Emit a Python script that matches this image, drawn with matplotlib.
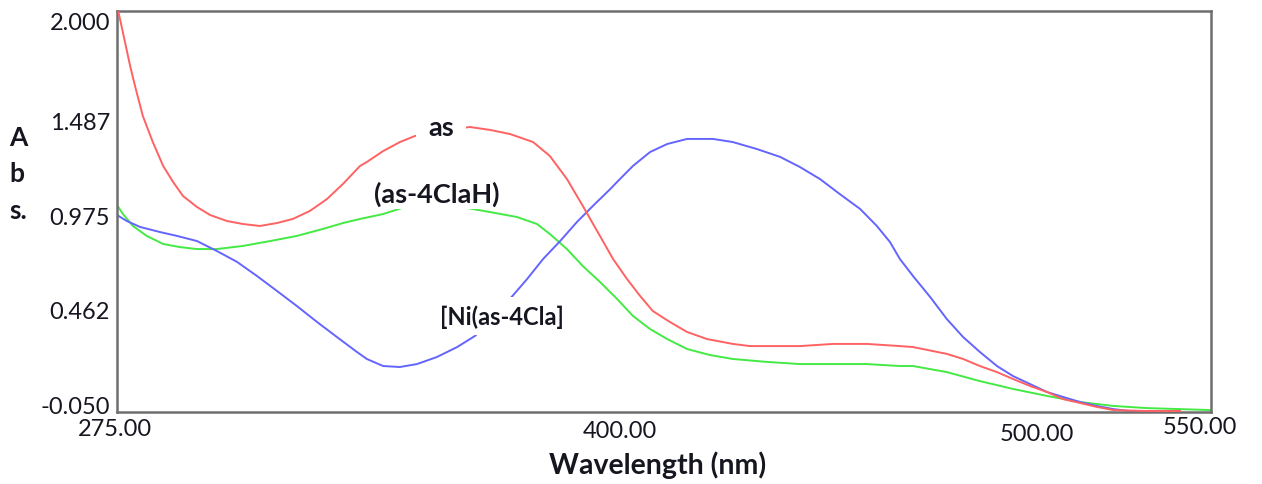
import matplotlib
matplotlib.use("Agg")
import matplotlib.pyplot as plt
from matplotlib.transforms import ScaledTranslation

# Absorption spectra (wavelength in nm, absorbance)
wl_as = [275.3, 277.0, 278.3, 279.6, 281.5, 284.0, 286.6, 289.1, 291.6, 295.1,
         298.4, 302.7, 306.7, 310.9, 315.2, 319.2, 323.5, 327.8, 331.8, 336.1,
         337.8, 341.9, 346.1, 349.9, 356.7, 363.7, 368.8, 373.8, 379.6, 383.8,
         388.1, 392.1, 396.4, 399.7, 403.2, 406.5, 409.7, 414.0, 418.3, 423.3,
         429.8, 434.1, 446.7, 455.0, 463.5, 471.8, 475.1, 483.6, 487.7, 491.9,
         496.2, 500.2, 504.5, 508.8, 512.8, 517.1, 521.3, 525.4, 533.9, 542.2]
abs_as = [2.001, 1.842, 1.719, 1.611, 1.463, 1.330, 1.208, 1.126, 1.054, 0.998,
          0.957, 0.926, 0.911, 0.901, 0.916, 0.937, 0.978, 1.039, 1.116, 1.208,
          1.228, 1.284, 1.330, 1.361, 1.387, 1.407, 1.392, 1.371, 1.330, 1.259,
          1.141, 1.003, 0.850, 0.732, 0.630, 0.543, 0.466, 0.410, 0.359, 0.323,
          0.298, 0.287, 0.287, 0.298, 0.298, 0.287, 0.282, 0.247, 0.221, 0.185,
          0.154, 0.119, 0.083, 0.052, 0.016, -0.004, -0.024, -0.040, -0.045, -0.045]

wl_ligand = [275.0, 276.5, 279.0, 282.5, 286.6, 290.8, 295.1, 300.1, 306.7, 313.5,
             320.2, 326.8, 331.8, 336.1, 341.9, 347.4, 352.7, 358.0, 363.0, 368.8,
             375.5, 380.6, 383.8, 388.1, 392.1, 396.4, 400.7, 404.7, 409.0, 413.3,
             418.3, 424.1, 429.8, 438.4, 446.7, 463.5, 471.8, 475.1, 483.6, 491.9,
             500.2, 508.8, 517.1, 525.4, 533.9, 549.7]
abs_ligand = [1.008, 0.962, 0.901, 0.850, 0.809, 0.793, 0.783, 0.783, 0.799, 0.824,
              0.850, 0.886, 0.916, 0.937, 0.962, 0.998, 1.003, 0.998, 0.993, 0.972,
              0.947, 0.911, 0.860, 0.783, 0.696, 0.615, 0.528, 0.441, 0.374, 0.323,
              0.272, 0.241, 0.221, 0.206, 0.195, 0.195, 0.185, 0.185, 0.154, 0.108,
              0.068, 0.032, 0.001, -0.019, -0.030, -0.040]

wl_complex = [275.0, 277.5, 280.8, 285.8, 290.1, 295.1, 300.1, 305.2, 310.2, 315.2,
              320.2, 325.3, 330.3, 335.3, 337.8, 341.9, 346.1, 350.4, 355.4, 360.5,
              365.0, 369.3, 373.3, 378.1, 382.1, 386.4, 390.6, 394.7, 398.9, 400.7,
              404.7, 409.0, 413.3, 418.3, 424.8, 429.8, 435.9, 441.7, 446.7, 451.7,
              456.7, 461.8, 466.0, 469.3, 471.8, 475.1, 479.4, 483.6, 487.7, 491.9,
              496.2, 500.2, 504.5, 508.8, 512.8, 517.1, 521.3, 525.4, 529.6, 542.2]
abs_complex = [0.957, 0.926, 0.896, 0.870, 0.850, 0.824, 0.773, 0.717, 0.645, 0.569,
               0.492, 0.410, 0.333, 0.257, 0.221, 0.185, 0.180, 0.195, 0.231, 0.282,
               0.339, 0.425, 0.517, 0.630, 0.732, 0.824, 0.921, 1.005, 1.088, 1.126,
               1.208, 1.279, 1.320, 1.346, 1.346, 1.330, 1.294, 1.254, 1.202, 1.141,
               1.064, 0.988, 0.901, 0.819, 0.732, 0.645, 0.538, 0.425, 0.333, 0.257,
               0.185, 0.134, 0.093, 0.052, 0.027, 0.001, -0.019, -0.035, -0.045, -0.045]

x_ticks = [275, 400, 500, 550]
x_tick_labels = ["275.00", "400.00", "500.00", "550.00"]
y_ticks = [2.000, 1.487, 0.975, 0.462, -0.050]
y_tick_labels = ["2.000", "1.487", "0.975", "0.462", "-0.050"]

FONT = "Lato"
TEXT_COLOR = "#161620"
W, H = 1262, 485

fig = plt.figure(figsize=(W / 100, H / 100), dpi=100)
fig.patch.set_facecolor("white")
ax = fig.add_axes([117 / W, (H - 413) / H, 1094 / W, 401 / H])

ax.plot(wl_as, abs_as, color="#ff6262", lw=1.4, zorder=3, solid_joinstyle="round")
ax.plot(wl_ligand, abs_ligand, color="#44ea44", lw=1.4, zorder=2, solid_joinstyle="round")
ax.plot(wl_complex, abs_complex, color="#6464ff", lw=1.4, zorder=2, solid_joinstyle="round")

ax.set_xlim(275, 550)
ax.set_ylim(-0.05, 2.0)

ax.set_xticks(x_ticks)
ax.set_xticklabels(x_tick_labels, fontsize=17, family=FONT)
ax.set_yticks(y_ticks)
ax.set_yticklabels(y_tick_labels, fontsize=17, family=FONT)
ax.tick_params(length=0, colors=TEXT_COLOR)
ax.tick_params(axis="x", pad=4)
ax.tick_params(axis="y", pad=5)

# per-label nudges (pixels, right / down)
x_nudge = [(-2, 0), (6, 2), (25, 5), (-11, -2)]
y_nudge = [(0, 10), (0, 9), (0, 4), (0, -2), (0, -7)]
for lbl, (dx, dy) in zip(ax.get_xticklabels(), x_nudge):
    lbl.set_transform(lbl.get_transform() + ScaledTranslation(dx / 100, -dy / 100, fig.dpi_scale_trans))
for lbl, (dx, dy) in zip(ax.get_yticklabels(), y_nudge):
    lbl.set_transform(lbl.get_transform() + ScaledTranslation(dx / 100, -dy / 100, fig.dpi_scale_trans))

for side in ["left", "right", "top", "bottom"]:
    ax.spines[side].set_color("#6e6e6e")
    ax.spines[side].set_linewidth(1.8)

# curve labels, with white boxes breaking the lines underneath
lab_kw = dict(fontweight="bold", family=FONT, color=TEXT_COLOR,
              ha="center", va="center", zorder=5)
ax.text(356.4, 1.407, "as", fontsize=19.5,
        bbox=dict(boxstyle="square,pad=0.45", fc="white", ec="none"), **lab_kw)
ax.text(355.4, 1.066, "(as-4ClaH)", fontsize=19.5,
        bbox=dict(boxstyle="square,pad=0.1", fc="white", ec="none"), **lab_kw)
ax.text(371.7, 0.441, "[Ni(as-4Cla]", fontsize=17,
        bbox=dict(boxstyle="square,pad=0.3", fc="white", ec="none"), **lab_kw)

# axis titles
ax_kw = dict(fontweight="bold", family=FONT, color=TEXT_COLOR, va="center")
for ch, yp in zip(["A", "b", "s."], [138, 174, 211]):
    fig.text(9 / W, 1 - yp / H, ch, ha="left", fontsize=19, **ax_kw)
fig.text(658 / W, 1 - 465 / H, "Wavelength (nm)", ha="center", fontsize=20.5, **ax_kw)

fig.savefig("out.png", dpi=100, facecolor="white")
